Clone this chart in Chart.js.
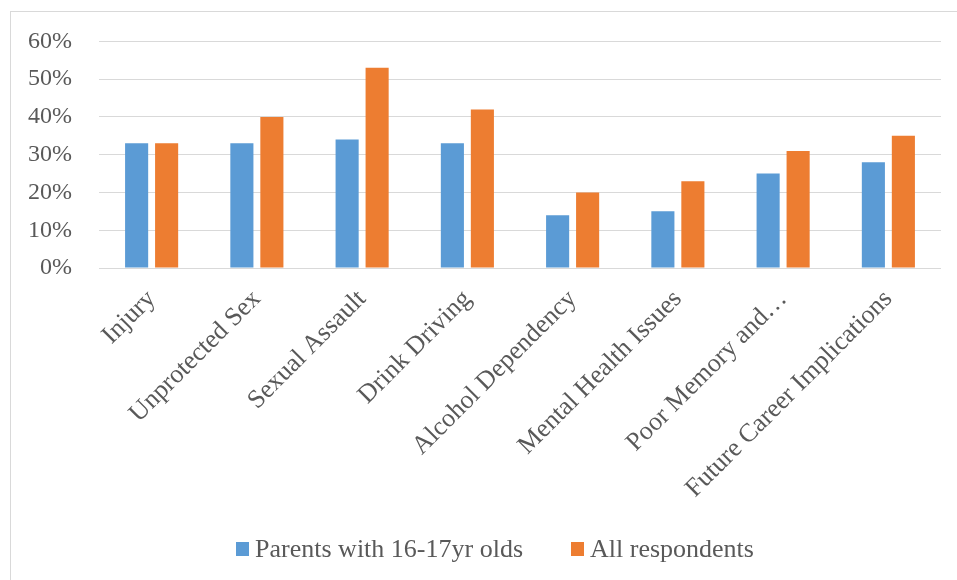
<!DOCTYPE html>
<html>
<head>
<meta charset="utf-8">
<script src="https://cdn.jsdelivr.net/npm/chart.js@4.4.1/dist/chart.umd.min.js"></script>
<style>
    html, body { margin: 0; padding: 0; background: #fff; }
    #wrap { position: relative; width: 957px; height: 580px; overflow: hidden; }
    #frame {
        position: absolute; left: 10px; top: 11px; width: 1000px; height: 1000px;
        border-left: 1px solid #d9d9d9; border-top: 1px solid #d9d9d9;
    }
    #riskChart { position: absolute; left: 0; top: 0; }
    #legend {
        position: absolute; left: 0; width: 990px; top: 531px;
        display: flex; justify-content: center; gap: 48px;
        font-family: "Liberation Serif", "Times New Roman", serif;
        font-size: 26px; color: #595959; line-height: 36px;
    }
    #legend .item { display: flex; align-items: center; }
    #legend .box { width: 13px; height: 14px; margin-right: 6px; }
</style>
</head>
<body>
<div id="wrap">
    <div id="frame"></div>
    <canvas id="riskChart" width="957" height="580"></canvas>
    <div id="legend"></div>
</div>
<script>
// Categorias e séries
const categories = [
    'Injury', 'Unprotected Sex', 'Sexual Assault', 'Drink Driving',
    'Alcohol Dependency', 'Mental Health Issues', 'Poor Memory and…',
    'Future Career Implications'
];
const parentsValues = [33, 33, 34, 33, 14, 15, 25, 28];
const allValues = [33, 40, 53, 42, 20, 23, 31, 35];
const yTicks = [0, 10, 20, 30, 40, 50, 60];

const textColor = '#595959';
const fontFamily = '"Liberation Serif", "Times New Roman", serif';

Chart.defaults.font.family = fontFamily;
Chart.defaults.color = textColor;

document.addEventListener('DOMContentLoaded', () => {
    const ctx = document.getElementById('riskChart').getContext('2d');
    const chart = new Chart(ctx, {
        type: 'bar',
        data: {
            labels: categories,
            datasets: [
                {
                    label: 'Parents with 16-17yr olds',
                    data: parentsValues,
                    backgroundColor: '#5B9BD5',
                    categoryPercentage: 0.57,
                    barPercentage: 0.77
                },
                {
                    label: 'All respondents',
                    data: allValues,
                    backgroundColor: '#ED7D31',
                    categoryPercentage: 0.57,
                    barPercentage: 0.77
                }
            ]
        },
        options: {
            responsive: false,
            animation: false,
            layout: { padding: { left: 0, right: 16, top: 40, bottom: 62 } },
            plugins: {
                tooltip: { enabled: false },
                legend: { display: false }
            },
            scales: {
                x: {
                    grid: { display: false },
                    border: { display: false },
                    ticks: {
                        color: textColor,
                        font: { family: fontFamily, size: 26 },
                        minRotation: 45,
                        maxRotation: 45,
                        autoSkip: false,
                        padding: 8
                    },
                    afterFit: (scale) => { scale.height = 250; }
                },
                y: {
                    min: 0,
                    max: 60,
                    afterBuildTicks: (scale) => {
                        scale.ticks = yTicks.map(v => ({ value: v }));
                    },
                    grid: { color: '#d9d9d9', lineWidth: 1, drawTicks: false },
                    border: { display: false },
                    ticks: {
                        color: textColor,
                        font: { family: fontFamily, size: 24 },
                        padding: 27,
                        callback: (v) => v + '%'
                    },
                    afterFit: (scale) => { scale.width = 99; }
                }
            }
        }
    });

    // Legenda em HTML a partir dos datasets
    const legend = document.getElementById('legend');
    legend.innerHTML = chart.data.datasets.map(ds => `
        <div class="item">
            <span class="box" style="background:${ds.backgroundColor}"></span>
            <span>${ds.label}</span>
        </div>
    `).join('');
});
</script>
</body>
</html>
